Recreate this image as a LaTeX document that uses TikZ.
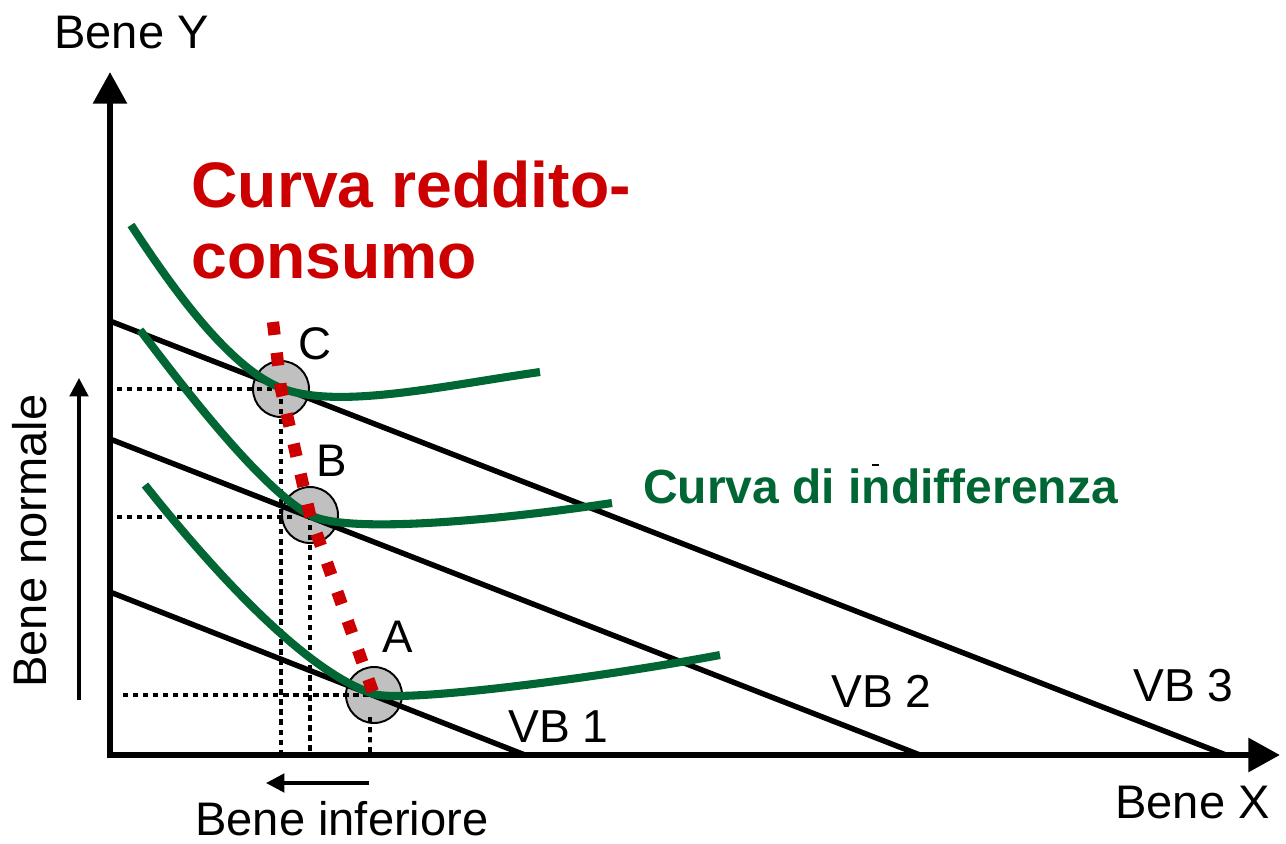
\documentclass[tikz,border=0pt]{standalone}
\usepackage{fontspec}
\setmainfont{Liberation Sans}
\usetikzlibrary{arrows.meta}
\definecolor{igreen}{RGB}{0,102,51}
\definecolor{ired}{RGB}{204,0,0}
\definecolor{pgray}{RGB}{192,192,192}
\begin{document}
\begin{tikzpicture}[x=0.02cm,y=-0.02cm,
  axisline/.style={line width=3.6pt,-{Triangle[length=18pt,width=18.7pt]}},
  budget/.style={line width=3.1pt},
  indiff/.style={line width=4.6pt,draw=igreen},
  guide/.style={line width=2pt,dash pattern=on 3pt off 2.7pt},
  icc/.style={line width=7pt,draw=ired,dash pattern=on 7.4pt off 10.2pt},
  pt/.style={circle,draw,fill=pgray,line width=1.1pt,minimum size=1.12cm,inner sep=0pt},
  smallarrow/.style={line width=2.1pt,-{Triangle[length=10.5pt,width=10.5pt]}},
  lbl/.style={font=\fontsize{26.8pt}{31pt}\selectfont,inner sep=0pt},
  vblbl/.style={font=\fontsize{26.3pt}{30pt}\selectfont,inner sep=0pt},
  ptlbl/.style={font=\fontsize{26pt}{30pt}\selectfont,inner sep=0pt},
  titlelbl/.style={font=\bfseries\fontsize{36.6pt}{40pt}\selectfont,text=ired,inner sep=0pt},
  glbl/.style={font=\bfseries\fontsize{27.3pt}{31pt}\selectfont,text=igreen,inner sep=0pt}]
\useasboundingbox (0,0) rectangle (1286,843);

% points
\node[pt] (pC) at (281,389) {};
\node[pt] (pB) at (310,515) {};
\node[pt] (pA) at (374,695) {};

% axes
\coordinate (O) at (110,755);
\coordinate (Ybot) at (110,758);
\coordinate (Ytip) at (110,72);
\coordinate (Xstart) at (107,755);
\coordinate (Xtip) at (1280,755);

% guides
\coordinate (hC) at (117,389);
\coordinate (hB) at (117,517);
\coordinate (hBe) at (292,517);
\coordinate (hA) at (123,695);
\draw[guide] (hC) -- (pC.center);
\draw[guide] (pC.center) -- (pC.center |- O);
\draw[guide] (hB) -- (hBe);
\draw[guide] (pB.center) -- (pB.center |- O);
\draw[guide] (hA) -- (pA.center);
\draw[guide] ([shift={(-4,22)}]pA.center) -- ([xshift=-0.08cm]pA.center |- O);

% axes drawn
\draw[axisline] (Ybot) -- (Ytip);
\draw[axisline] (Xstart) -- (Xtip);

% budget lines
\coordinate (vb1a) at (110,592); \coordinate (vb1b) at (525,755);
\coordinate (vb2a) at (110,439); \coordinate (vb2b) at (920,755);
\coordinate (vb3a) at (110,321); \coordinate (vb3b) at (1226,755);
\draw[budget] (vb1a) -- (vb1b);
\draw[budget] (vb2a) -- (vb2b);
\draw[budget] (vb3a) -- (vb3b);

% indifference curves
\coordinate (i3a) at (131,225); \coordinate (i3m) at (281,388); \coordinate (i3b) at (540,372);
\coordinate (i2a) at (140,330); \coordinate (i2m) at (310,515); \coordinate (i2b) at (612,503);
\coordinate (i1a) at (145,485); \coordinate (i1m) at (374,694); \coordinate (i1b) at (720,655);
\draw[indiff] (i3a) .. controls (164,275) and (225,366) .. (i3m)
                    .. controls (337,410) and (441,386) .. (i3b);
\draw[indiff] (i2a) .. controls (175,376) and (259,488) .. (i2m)
                    .. controls (345,534) and (493,521) .. (i2b);
\draw[indiff] (i1a) .. controls (195,548) and (298,670) .. (i1m)
                    .. controls (402,703) and (592,679) .. (i1b);

% income-consumption curve
\coordinate (r0) at (273,322);
\draw[icc] (r0) -- (pC.center) -- (pB.center) -- (pA.center);

% small arrows
\coordinate (bnT) at (79,700); \coordinate (bnH) at (79,378);
\draw[smallarrow] (bnT) -- (bnH);
\coordinate (biT) at (369,783); \coordinate (biH) at (266,783);
\draw[smallarrow] (biT) -- (biH);

% stray mark
\coordinate (m1) at (872,465); \coordinate (m2) at (879,465);
\draw[line width=1pt] (m1) -- (m2);

% labels
\node[lbl,anchor=base west] (lY) at (54,48) {Bene Y};
\node[lbl,anchor=base west] (lX) at (1115,818) {Bene X};
\node[lbl,anchor=base west] (lInf) at (195,835) {Bene inferiore};
\node[lbl,rotate=90,anchor=base west] (lNorm) at (47,688) {Bene normale};
\node[titlelbl,anchor=base west] (t1) at (191,207) {Curva reddito-};
\node[titlelbl,anchor=base west] (t2) at (191,278) {consumo};
\node[glbl,anchor=base west] (lCI) at (643,503) {Curva di indifferenza};
\node[vblbl,anchor=base west] (lvb1) at (508,742) {VB 1};
\node[vblbl,anchor=base west] (lvb2) at (831,707) {VB 2};
\node[vblbl,anchor=base west] (lvb3) at (1133,701) {VB 3};
\node[ptlbl,anchor=base west] (lC) at (298,359) {C};
\node[ptlbl,anchor=base west] (lB) at (316,476) {B};
\node[ptlbl,anchor=base west] (lA) at (382,652) {A};
\end{tikzpicture}
\end{document}
